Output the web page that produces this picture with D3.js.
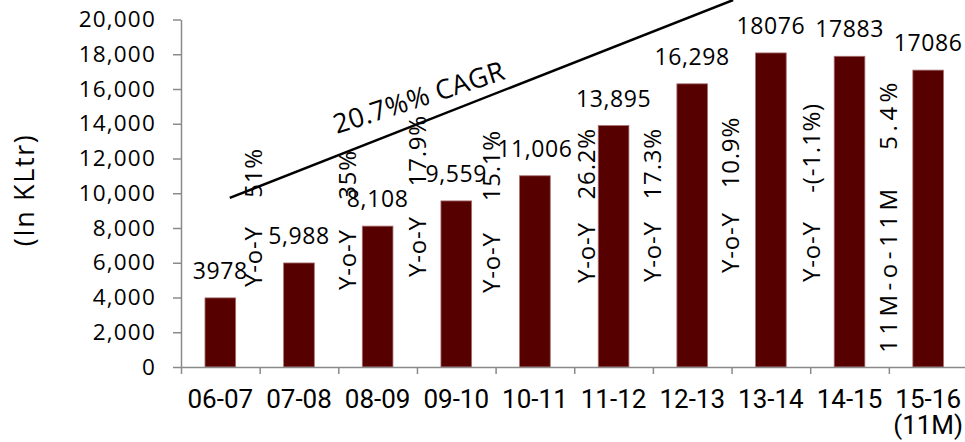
<!DOCTYPE html>
<html>
<head>
<meta charset="utf-8">
<script src="https://cdn.jsdelivr.net/npm/d3@7"></script>
<style>
body{margin:0;background:#fff}
svg{display:block}
text{font-family:"Open Sans",sans-serif;fill:#000}
</style>
</head>
<body>
<script>
const categories = ["06-07","07-08","08-09","09-10","10-11","11-12","12-13","13-14","14-15","15-16\n(11M)"];
const volumes = [3978, 5988, 8108, 9559, 11006, 13895, 16298, 18076, 17883, 17086];
const volumeLabels = ["3978","5,988","8,108","9,559","11,006","13,895","16,298","18076","17883","17086"];
const yTicks = [0, 2000, 4000, 6000, 8000, 10000, 12000, 14000, 16000, 18000, 20000];
const growthPrefix = ["Y-o-Y","Y-o-Y","Y-o-Y","Y-o-Y","Y-o-Y","Y-o-Y","Y-o-Y","Y-o-Y","11M-o-11M"];
const growthRate = ["51%","35%","17.9%","15.1%","26.2%","17.3%","10.9%","-(-1.1%)","5.4%"];
const cagrLabel = "20.7%% CAGR";

width = 965
height = 442

// where the annotations sit: category slot, and axis values for bottom / top ends
const growthSlot = [0.915, 2.11, 3.01, 3.95, 5.16, 5.99, 6.99, 8.02, 9.0];
const growthBase = [4600, 4430, 5180, 4260, 4840, 4890, 5410, 4890, 810];
const growthTop = [12600, 12490, 14500, 13640, 13750, 13750, 14390, 15190, 16630];
const cagrSlot = [0.62, 7.02], cagrValue = [9730, 21120];

const svg = d3.select("body").append("svg")
    .attr("width", width)
    .attr("height", height)
    .attr("viewBox", [0, 0, width, height]);

const x = d3.scaleBand().domain(categories).range([181, 967.5]).paddingInner(0.61).paddingOuter(0.305);
const slot = d3.scaleLinear().domain([0, categories.length]).range([181, 967.5]);
const y = d3.scaleLinear().domain([0, 20000]).range([367, 19.5]);

// bars
svg.append("g").selectAll("rect")
    .data(volumes)
    .join("rect")
    .attr("x", (d, i) => x(categories[i]))
    .attr("y", d => y(d))
    .attr("width", x.bandwidth())
    .attr("height", d => y(0) - y(d))
    .attr("fill", "#560000")
    .attr("stroke", "#a87070")
    .attr("stroke-width", 0.8);

// y axis
const yAxis = svg.append("g")
    .attr("transform", `translate(${slot(0)},0)`)
    .call(d3.axisLeft(y).tickValues(yTicks).tickFormat(d3.format(",")).tickSize(8).tickSizeOuter(0).tickPadding(17));
yAxis.selectAll("text").style("font-size", "22.5px").style("letter-spacing", "1.2px").attr("fill", "#000");

// x axis: boundary ticks, then labels
svg.append("g")
    .attr("transform", `translate(0,${y(0)})`)
    .call(d3.axisBottom(slot).tickValues(d3.range(0, categories.length + 1)).tickFormat("").tickSize(7).tickSizeOuter(0));

const xLab = svg.append("g")
    .attr("transform", `translate(0,${y(0)})`)
    .call(d3.axisBottom(x).tickSize(0).tickPadding(0));
xLab.select(".domain").remove();
xLab.selectAll("text").remove();
xLab.selectAll(".tick").append("text")
    .attr("text-anchor", "middle")
    .style("font-family", "Roboto, sans-serif")
    .style("font-size", "26px")
    .selectAll("tspan")
    .data(d => d.split("\n"))
    .join("tspan")
    .attr("x", 0)
    .attr("y", (d, i) => 41 + i * 26)
    .text(d => d);

svg.selectAll(".domain, .tick line").attr("stroke", "#8a8a8a").attr("stroke-width", 1.5);

// value labels
svg.append("g").selectAll("text")
    .data(volumes)
    .join("text")
    .attr("x", (d, i) => x(categories[i]) + x.bandwidth() / 2)
    .attr("y", d => y(d) - 19)
    .attr("text-anchor", "middle")
    .style("font-size", "23px")
    .style("letter-spacing", "0.6px")
    .text((d, i) => volumeLabels[i]);

// growth annotations: prefix reads up from the base, rate ends at the top
// the last (11M) one is set wider in the source
const spacing = i => i === growthPrefix.length - 1 ? "4.5px" : "0.8px";
const growth = svg.append("g").style("font-size", "24px");
growth.selectAll("text.pre")
    .data(growthPrefix)
    .join("text")
    .attr("class", "pre")
    .attr("transform", (d, i) => `translate(${slot(growthSlot[i])},${y(growthBase[i])}) rotate(-90)`)
    .attr("dy", "0.36em")
    .style("letter-spacing", (d, i) => spacing(i))
    .text(d => d);
growth.selectAll("text.rate")
    .data(growthRate)
    .join("text")
    .attr("class", "rate")
    .attr("transform", (d, i) => `translate(${slot(growthSlot[i])},${y(growthTop[i])}) rotate(-90)`)
    .attr("dy", "0.36em")
    .attr("text-anchor", "end")
    .style("letter-spacing", (d, i) => spacing(i))
    .text(d => d);

// CAGR line
svg.append("line")
    .attr("x1", slot(cagrSlot[0])).attr("y1", y(cagrValue[0]))
    .attr("x2", slot(cagrSlot[1])).attr("y2", y(cagrValue[1]))
    .attr("stroke", "#000")
    .attr("stroke-width", 2.5);

svg.append("text")
    .attr("transform", `translate(${slot(1.98)},${y(13410)}) rotate(-18)`)
    .style("font-size", "27px")
    .style("letter-spacing", "0.3px")
    .text(cagrLabel);

// axis title
svg.append("text")
    .attr("transform", `translate(24,190) rotate(-90)`)
    .attr("text-anchor", "middle")
    .attr("dy", "0.36em")
    .style("font-size", "27px")
    .style("letter-spacing", "1.6px")
    .text("(In KLtr)");
</script>
</body>
</html>
